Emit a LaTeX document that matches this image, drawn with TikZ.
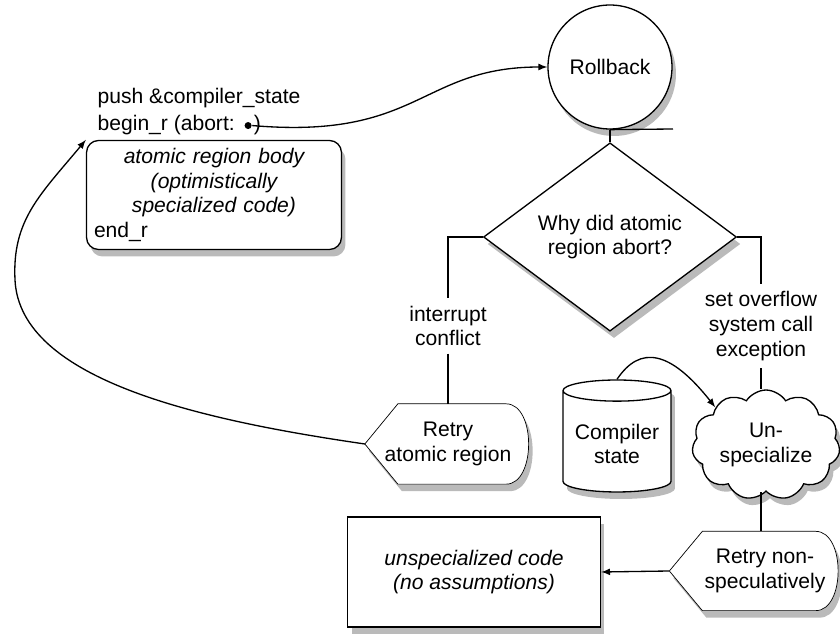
\documentclass[tikz,border=0pt]{standalone}
\usepackage{fontspec}
\setmainfont{Liberation Sans}
\usepackage{tikz}
\usetikzlibrary{arrows.meta, positioning, shapes.geometric, shapes.symbols, shadows, backgrounds}

\begin{document}
\begin{tikzpicture}[
    x=0.02cm, y=-0.02cm,
    font=\fontsize{12}{14}\selectfont,
    line width=0.75pt,
    dropped/.style={drop shadow={fill=black!45, opacity=0.6, shadow xshift=0.08cm, shadow yshift=-0.14cm}},
    block/.style={rectangle, draw, fill=white, dropped, align=center},
    lbl/.style={inner sep=0pt},
    branch/.style={align=center, inner sep=4pt},
    display/.style={rectangle, align=center, inner sep=0pt}
]
\useasboundingbox (0,0) rectangle (840,634);

% Atomic region
\node[lbl, anchor=base west] (pushln) at (97,104) {push \&compiler\_state};
\node[lbl, anchor=base west] (beginln) at (97,131) {begin\_r (abort:};
\node[circle, fill, inner sep=0pt, minimum size=0.14cm, right=0.17cm of beginln] (abortdot) {};
\node[lbl, anchor=base west] (closeparen) at ([xshift=0.02cm]abortdot.east |- beginln.base) {)};
\node[block, rounded corners=0.24cm, minimum width=5.1cm, minimum height=2.18cm,
      text width=4.8cm, inner sep=0.1cm] (body) at (214,195)
  {{\itshape atomic region body\\(optimistically\\specialized code)}\\
   \hbox to \linewidth{end\_r\hfil}};

% Rollback and decision
\node[block, circle, minimum size=2.48cm] (rollback) at (610,67) {Rollback};
\coordinate (stub) at (673,129);
\node[block, diamond, minimum width=5.06cm, minimum height=2.36cm, inner sep=0pt] (why) at (610,237)
  {Why did atomic\\region abort?};

% Branch labels
\node[branch] (intlbl) at (448,326) {interrupt\\conflict};
\node[branch] (ovflbl) at (761,326) {set overflow\\system call\\exception};

% Recovery
\node[display, minimum width=3.3cm, minimum height=1.58cm] (retryA) at (448,444) {Retry\\atomic region};
\node[block, cylinder, shape border rotate=90, aspect=0.22, minimum width=2.16cm, minimum height=2.24cm] (compstate) at (617,444)
  {Compiler\\state};
\node[block, cloud, cloud puffs=11, cloud puff arc=115, aspect=1.4, minimum width=2.96cm, minimum height=2.1cm, inner sep=0pt] (unspec) at (766,445)
  {Un-\\specialize};
\node[display, minimum width=3.4cm, minimum height=1.56cm] (retryB) at (755,571) {\hspace{0.4cm}Retry non-\\\hspace{0.4cm}speculatively};
\node[block, minimum width=5.06cm, minimum height=2.2cm] (plain) at (474,572)
  {\itshape unspecialized code\\\itshape (no assumptions)};

% Display outlines
\begin{scope}[on background layer]
\foreach \d in {retryA, retryB} {
  \draw[fill=white, dropped] (\d.west) -- ([xshift=0.66cm]\d.north west)
    -- ([xshift=-0.5cm]\d.north east) .. controls ([xshift=0.1cm]\d.north east) and ([xshift=0.1cm]\d.south east) .. ([xshift=-0.5cm]\d.south east)
    -- ([xshift=0.66cm]\d.south west) -- cycle;
}
\end{scope}

% Connections
\draw[-latex] (abortdot.east) .. controls (420,140) and (420,67) .. (rollback.west);
\draw (rollback.south) -- (stub);
\draw (rollback.south) -- (why.north);
\draw (why.west) -| (intlbl.north);
\draw (intlbl.south) -- (intlbl.south |- retryA.north);
\draw (why.east) -| (ovflbl.north);
\draw (ovflbl.south) -- (ovflbl.south |- unspec.north);
\draw[-latex] (compstate.north) .. controls (640,345) and (670,350) .. (unspec.north west);
\draw (unspec.south -| ovflbl.south) -- (ovflbl.south |- retryB.north);
\draw[-latex] (retryB.west) -- (plain.east);
\draw[-latex] (retryA.west) .. controls (200,420) and (20,380) .. (15,280)
  .. controls (12,220) and (40,195) .. (body.north west);

\end{tikzpicture}
\end{document}
